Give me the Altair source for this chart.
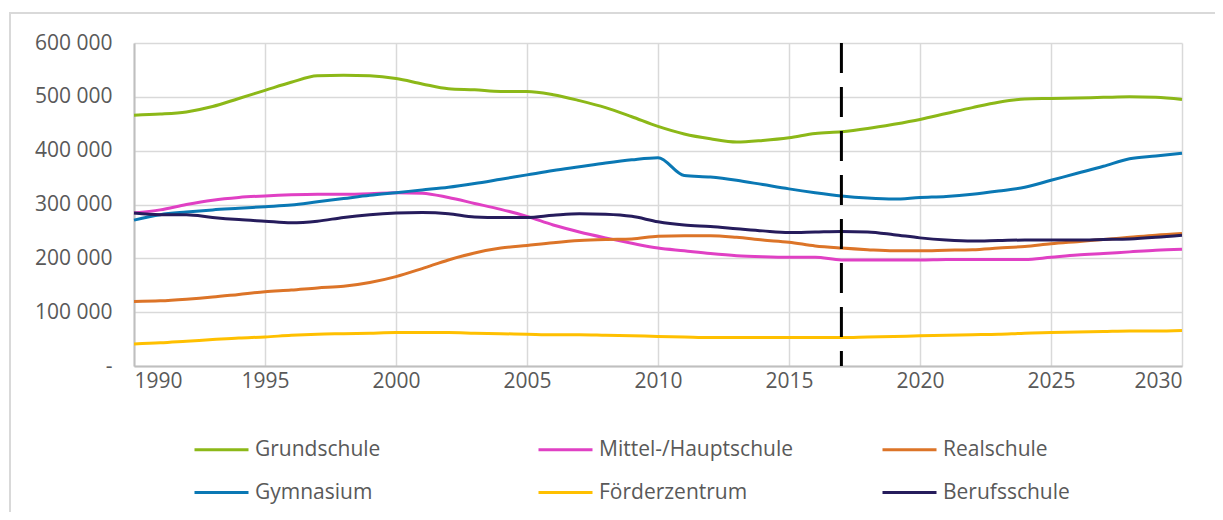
import altair as alt
import pandas as pd

years = list(range(1990, 2031))

grundschule = [466, 468, 472, 482, 497, 512, 527, 539, 540, 539, 534, 524, 515, 513, 510, 510, 504, 493, 480, 463,
               445, 431, 422, 416, 419, 424, 432, 435, 441, 449, 458, 469, 480, 490, 496, 497, 498, 499, 500, 499, 495]
mittel_haupt = [284, 290, 300, 308, 313, 316, 318, 319, 319, 320, 322, 321, 313, 302, 291, 278, 262, 249, 238, 228,
                219, 214, 209, 205, 203, 202, 202, 197, 197, 197, 197, 198, 198, 198, 198, 202, 206, 209, 212, 215, 217]
realschule = [120, 121, 124, 128, 133, 138, 141, 145, 148, 155, 166, 181, 197, 210, 219, 224, 229, 233, 235, 236,
              241, 242, 242, 239, 234, 230, 223, 219, 216, 214, 214, 215, 216, 219, 222, 227, 231, 235, 239, 243, 246]
gymnasium = [271, 281, 286, 290, 293, 296, 299, 305, 311, 317, 322, 327, 332, 339, 347, 355, 363, 370, 377, 383,
             387, 354, 351, 345, 337, 329, 322, 316, 312, 310, 313, 315, 319, 325, 332, 345, 358, 371, 385, 390, 395]
foerderzentrum = [41, 43, 46, 49, 52, 54, 57, 59, 60, 61, 62, 62, 62, 61, 60, 59, 58, 58, 57, 56,
                  55, 54, 53, 53, 53, 53, 53, 53, 54, 55, 56, 57, 58, 59, 61, 62, 63, 64, 65, 65, 66]
berufsschule = [284, 281, 281, 276, 272, 269, 266, 269, 276, 281, 284, 285, 283, 277, 276, 276, 280, 283, 282, 278,
                268, 262, 259, 255, 251, 248, 249, 250, 249, 244, 238, 234, 232, 233, 234, 234, 234, 235, 236, 239, 243]

series_names = ["Grundschule", "Mittel-/Hauptschule", "Realschule", "Gymnasium", "Förderzentrum", "Berufsschule"]
series_values = [grundschule, mittel_haupt, realschule, gymnasium, foerderzentrum, berufsschule]
series_colors = ["#8cb818", "#e040c4", "#dc7428", "#0a78b4", "#ffc000", "#261c5c"]

projection_start = [2017]
x_ticks = list(range(1990, 2031, 5))
y_ticks = [0, 100000, 200000, 300000, 400000, 500000, 600000]

rows = []
for name, vals in zip(series_names, series_values):
    for yr, v in zip(years, vals):
        rows.append({"Jahr": yr, "Schule": name, "Anzahl": v * 1000})
df = pd.DataFrame(rows)

FONT = "Open Sans"
TXT = "#595959"

lines = alt.Chart(df).mark_line(strokeWidth=3, interpolate="monotone").encode(
    x=alt.X("Jahr:Q", scale=alt.Scale(domain=[1990, 2030], nice=False, zero=False),
            axis=alt.Axis(values=x_ticks, format="d", title=None, grid=True)),
    y=alt.Y("Anzahl:Q", scale=alt.Scale(domain=[0, 600000], nice=False),
            axis=alt.Axis(values=y_ticks, title=None, grid=True,
                          labelExpr="datum.value == 0 ? '-' : format(datum.value / 1000, 'd') + ' 000'")),
    color=alt.Color("Schule:N", scale=alt.Scale(domain=series_names, range=series_colors),
                    legend=alt.Legend(title=None)),
)

rule = alt.Chart(pd.DataFrame({"Jahr": projection_start})).mark_rule(
    color="black", strokeWidth=3, strokeDash=[30, 14]
).encode(x="Jahr:Q")

border = alt.Chart(pd.DataFrame({"a": [0]})).mark_rect(
    fill=None, stroke="#d9d9d9", strokeWidth=2
).encode(x=alt.value(-124), x2=alt.value(1120), y=alt.value(-30), y2=alt.value(500))

chart = alt.layer(border, lines, rule).properties(
    width=1048, height=323,
    autosize=alt.AutoSizeParams(type="none"),
    padding={"left": 126, "top": 35, "right": 33, "bottom": 146},
).configure_view(stroke=None).configure_axis(
    labelFont=FONT, labelFontSize=21, labelColor=TXT,
    gridColor="#d9d9d9", gridWidth=1.5,
    domainColor="#bfbfbf", domainWidth=2, ticks=False,
).configure_axisY(labelPadding=22, domain=True).configure_axisX(labelPadding=4).configure_legend(
    orient="none", legendX=59, legendY=378, direction="horizontal", columns=3,
    symbolType="stroke", symbolSize=2916, symbolStrokeWidth=3,
    labelFont=FONT, labelFontSize=21, labelColor=TXT, labelOffset=5, labelLimit=400,
    columnPadding=83, rowPadding=4, gridAlign="all", padding=0,
)

chart.save("out.html", embed_options={"renderer": "svg", "actions": False})
